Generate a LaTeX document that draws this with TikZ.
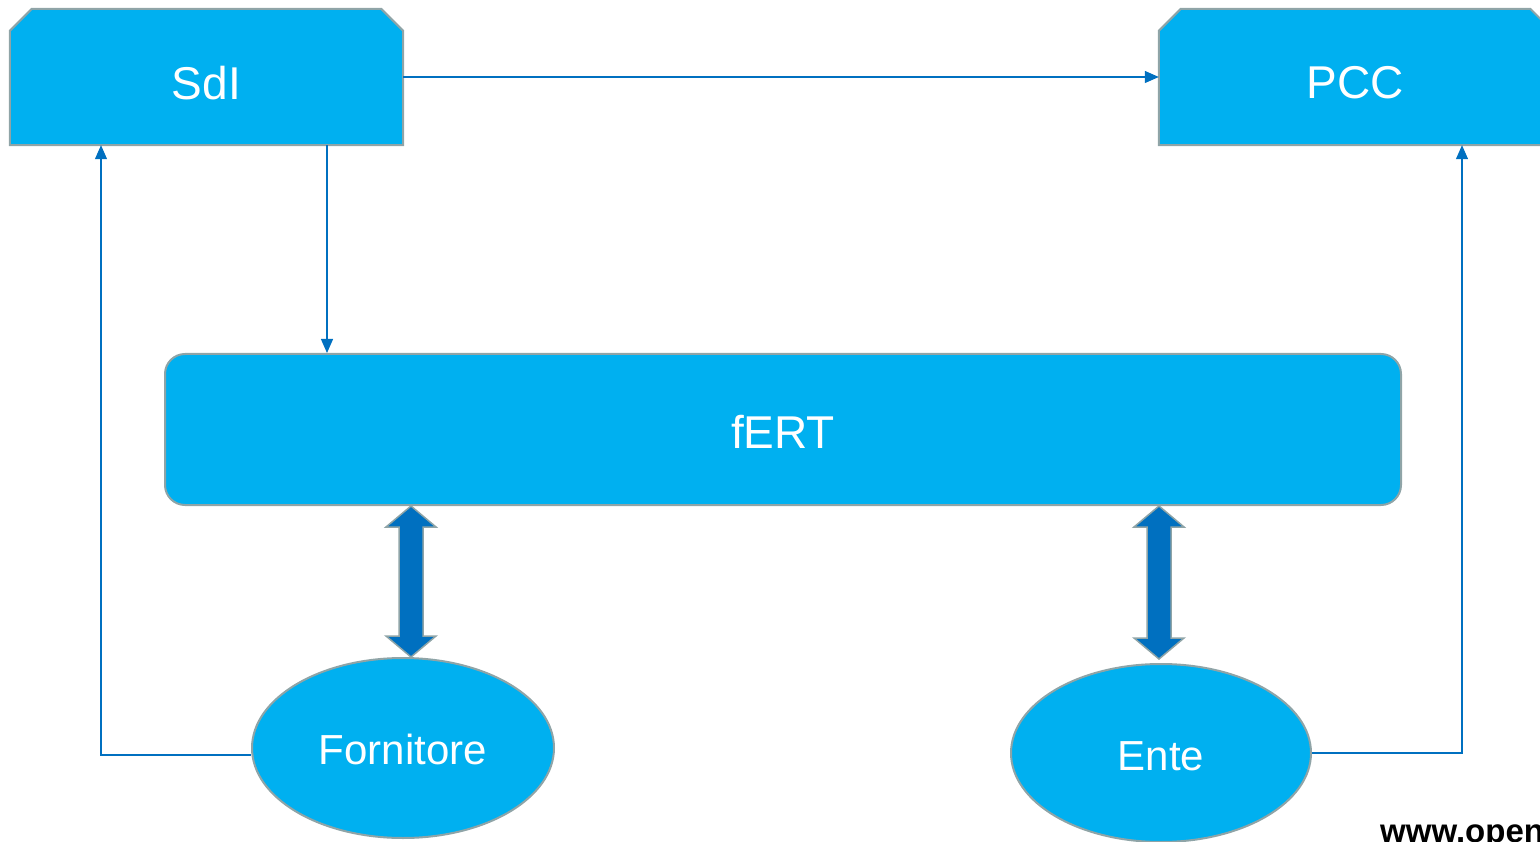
\documentclass[tikz,border=0pt]{standalone}
\usepackage{fontspec}
\setmainfont{Liberation Sans}
\usetikzlibrary{shapes.geometric,arrows.meta,calc}
\definecolor{fillblue}{HTML}{00B0F0}
\definecolor{linkblue}{HTML}{0070C0}
\definecolor{edgegray}{HTML}{8FA4A7}
\newcommand{\chamfbox}[1]{%
  \draw[boxline] (#1.south west) -- ($(#1.north west)+(0,22)$) -- ($(#1.north west)+(22,0)$)
    -- ($(#1.north east)+(-22,0)$) -- ($(#1.north east)+(0,22)$) -- (#1.south east) -- cycle;}
\newcommand{\dblarr}[2]{%
  \draw[fatarrow] (#1) -- ($(#1)+(25,21)$) -- ($(#1)+(12,21)$) -- ($(#2)+(12,-21)$) -- ($(#2)+(25,-21)$)
    -- (#2) -- ($(#2)+(-25,-21)$) -- ($(#2)+(-12,-21)$) -- ($(#1)+(-12,21)$) -- ($(#1)+(-25,21)$) -- cycle;}
\begin{document}
\begin{tikzpicture}[x=1pt,y=-1pt,
  frame/.style={rectangle, draw=none, inner sep=0pt},
  boxline/.style={fill=fillblue, draw=edgegray, line width=2pt},
  lbl/.style={text=white, inner sep=0pt, font=\fontsize{46}{50}\selectfont},
  elbl/.style={text=white, inner sep=0pt, font=\fontsize{42}{46}\selectfont},
  oval/.style={ellipse, fill=fillblue, draw=edgegray, line width=2pt, minimum width=302pt, minimum height=180pt, inner sep=0pt},
  link/.style={draw=linkblue, line width=1.2pt, -{Triangle[length=14pt,width=12pt]}},
  fatarrow/.style={fill=linkblue, draw=edgegray, line width=1.5pt, line join=miter}]
\useasboundingbox (0,0) rectangle (1540,842);
% top boxes
\node[frame, minimum width=393pt, minimum height=136pt] (sdi) at (206.5,77) {};
\chamfbox{sdi}
\node[lbl] (sdit) at ([yshift=-6pt]sdi.center) {SdI};
\node[frame, minimum width=393pt, minimum height=136pt] (pcc) at (1355.5,77) {};
\chamfbox{pcc}
\node[lbl] (pcct) at ([yshift=-6pt]pcc.center) {PCC};
% fERT
\node[rectangle, rounded corners=20pt, fill=fillblue, draw=edgegray, line width=2pt,
      minimum width=1236pt, minimum height=151pt, inner sep=0pt] (fert) at (783,429.5) {};
\node[lbl] (fertt) at ([yshift=-2pt]fert.center) {fERT};
% ellipses
\node[oval] (forn) at (403,748) {};
\node[elbl] (fornt) at ([yshift=-1pt]forn.center) {Fornitore};
\node[oval, minimum width=300pt, minimum height=178pt] (ente) at (1161,753) {};
\node[elbl] (entet) at ([yshift=-3pt]ente.center) {Ente};
% thin connectors
\draw[link] (sdi.east) -- (pcc.west);
\draw[link] (327,0 |- sdi.south) -- (327,0 |- fert.north);
\draw[link] ([yshift=-7pt]forn.west) -| (101,0 |- sdi.south);
\draw[link] (ente.east) -| (1462,0 |- pcc.south);
% fat double arrows
\coordinate (fa1) at (411,506);
\coordinate (fa2) at (411,657);
\dblarr{fa1}{fa2}
\coordinate (ea1) at (1159,506);
\coordinate (ea2) at (1159,659);
\dblarr{ea1}{ea2}
% watermark
\node[anchor=base west, inner sep=0pt, font=\fontsize{33}{33}\bfseries, text=black] (wm) at (1380,842) {www.openpa};
\end{tikzpicture}
\end{document}
